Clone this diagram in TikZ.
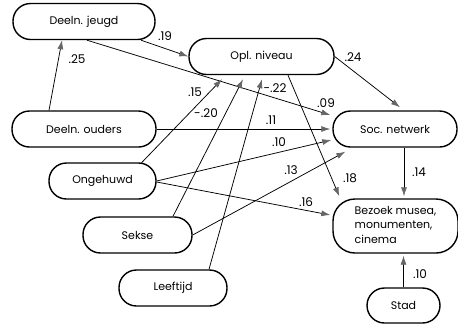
\documentclass[tikz,border=0pt]{standalone}
\usepackage{fontspec}
\setmainfont{Poppins}
\usetikzlibrary{arrows.meta,calc}
\tikzset{
  pill/.style={draw, line width=1.4pt, rounded corners=17.5pt, minimum height=36pt, inner sep=0pt, font=\fontsize{11}{14.5}\selectfont},
  conn/.style={line width=0.75pt, -{Latex[length=9pt,width=6pt,color=black!60]}},
  coef/.style={font=\fontsize{12}{14}\selectfont, inner sep=0pt}
}
\begin{document}
\begin{tikzpicture}[x=1pt,y=-1pt]
\useasboundingbox (0,0) rectangle (458,325);
% nodes
\node[pill, minimum width=142pt] (jeugd) at (84,21.5) {Deeln. jeugd};
\node[pill, minimum width=145pt] (opl) at (261.5,56.5) {Opl. niveau};
\node[pill, minimum width=144pt] (ouders) at (84,129) {Deeln. ouders};
\node[pill, minimum width=124pt] (soc) at (395,129) {Soc. netwerk};
\node[pill, minimum width=107pt] (ong) at (102.5,181) {Ongehuwd};
\node[pill, minimum width=109pt] (sekse) at (137.5,235) {Sekse};
\node[pill, minimum width=108pt] (leeft) at (173,288) {Leeftijd};
\node[pill, minimum width=125pt, minimum height=54pt, rounded corners=22pt] (bez) at (395.5,226)
  {\begin{tabular}{@{}l@{}}Bezoek musea,\\ monumenten,\\ cinema\end{tabular}};
\node[pill, minimum width=73pt, minimum height=35pt] (stad) at (403.5,305.5) {Stad};
% connectors
\draw[conn] ($(ouders.north)+(-35,0)$) -- ($(jeugd.south)+(-22,0)$);
\draw[conn] ($(jeugd.south)+(57,0)$) -- (opl.west);
\draw[conn] ($(jeugd.south)+(3,0)$) -- ($(soc.west)+(-2,-14)$);
\draw[conn] (opl.east) -- ($(soc.north)+(5,-3)$);
\draw[conn] (ouders.east) -- ($(soc.west)+(-2,0)$);
\draw[conn] ($(ong.north)+(39,0.5)$) -- ($(opl.south)+(-39.5,4)$);
\draw[conn] ($(sekse.north)+(35.5,0)$) -- ($(opl.south)+(-18.5,4)$);
\draw[conn] ($(leeft.north)+(36,0)$) -- ($(opl.south)+(0.5,4)$);
\draw[conn] ($(opl.south)+(26.5,0)$) -- ($(bez.north west)+(7,-2)$);
\draw[conn] (ong.east) -- ($(soc.west)+(-1,11)$);
\draw[conn] ($(ong.east)+(0,1)$) -- ($(bez.west)+(-2,-11)$);
\draw[conn] (sekse.east) -- ($(soc.south west)+(13,4)$);
\draw[conn] ($(soc.south)+(9,0)$) -- ($(bez.north)+(8.5,-2)$);
\draw[conn] (stad.north) -- ($(bez.south)+(8,2)$);
% coefficients
\node[coef] (c1) at (77,59) {.25};
\node[coef] (c2) at (165,36) {.19};
\node[coef] (c3) at (195,92) {.15};
\node[coef] (c4) at (206,113) {-.20};
\node[coef] (c5) at (275,88) {-.22};
\node[coef] (c6) at (326,103) {.09};
\node[coef] (c7) at (353,57) {.24};
\node[coef] (c8) at (271,120) {.11};
\node[coef] (c9) at (279,142) {.10};
\node[coef] (c10) at (291,170) {.13};
\node[coef] (c11) at (350,178) {.18};
\node[coef] (c12) at (306,202) {.16};
\node[coef] (c13) at (419,172) {.14};
\node[coef] (c14) at (420,274) {.10};
\end{tikzpicture}
\end{document}
